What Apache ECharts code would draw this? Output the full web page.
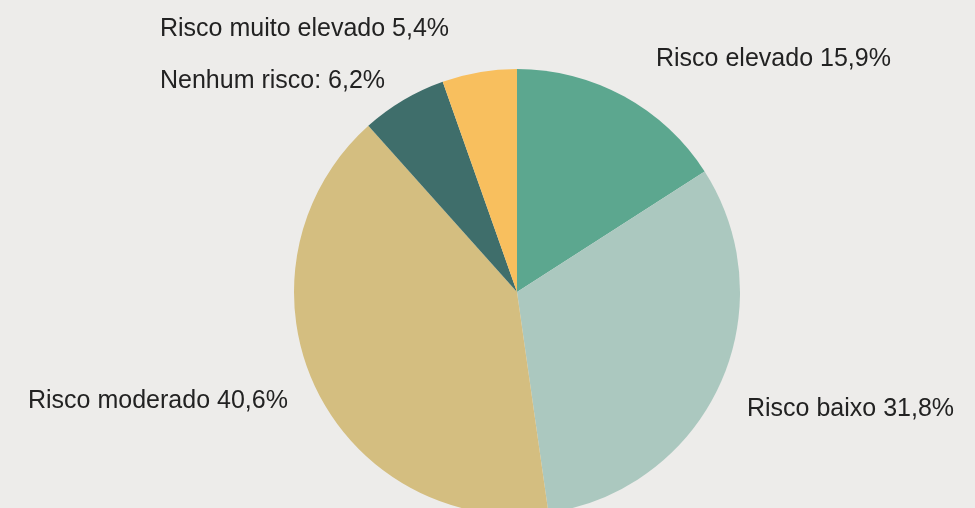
<!DOCTYPE html>
<html><head><meta charset="utf-8">
<script src="https://cdn.jsdelivr.net/npm/echarts@6/dist/echarts.min.js"></script>
<style>html,body{margin:0;padding:0;background:#EDECEA;}#c{width:975px;height:508px;}</style>
</head><body><div id="c"></div>
<script>
const categories = ['Risco elevado', 'Risco baixo', 'Risco moderado', 'Nenhum risco:', 'Risco muito elevado'];
const values = [15.9, 31.8, 40.6, 6.2, 5.4];
const colors = ['#5CA78F', '#ABC8BF', '#D4BE80', '#3F6E6B', '#F8BF5E'];
const labelPos = [[656, 59], [747, 409], [28, 401], [160, 81], [160, 29]];

const chart = echarts.init(document.getElementById('c'));
chart.setOption({
  backgroundColor: '#EDECEA',
  animation: false,
  series: [{
    type: 'pie',
    center: [517, 292],
    radius: 223,
    startAngle: 90,
    clockwise: true,
    data: categories.map((n, i) => ({ name: n, value: values[i], itemStyle: { color: colors[i] } })),
    label: {
      show: true,
      position: 'outside',
      overflow: 'none',
      width: 400,
      fontFamily: 'Liberation Sans, Arial, sans-serif',
      fontSize: 25,
      color: '#222222',
      formatter: p => p.name + ' ' + p.value.toFixed(1).replace('.', ',') + '%'
    },
    labelLine: { show: false },
    labelLayout: p => ({ x: labelPos[p.dataIndex][0], y: labelPos[p.dataIndex][1], align: 'left', verticalAlign: 'middle' }),
    itemStyle: { borderWidth: 0 },
    emphasis: { disabled: true }
  }]
});
</script></body></html>
